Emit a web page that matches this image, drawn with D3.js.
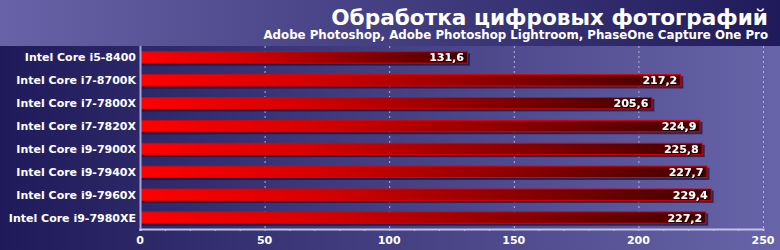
<!DOCTYPE html>
<html>
<head>
<meta charset="utf-8">
<script src="https://cdn.jsdelivr.net/npm/d3@7"></script>
<style>
  body { margin: 0; background: #2a2566; }
  svg { display: block; font-family: "DejaVu Sans", Verdana, sans-serif; }
</style>
</head>
<body>
<svg width="780" height="250"></svg>
<script>
// data
var cpus = ["Intel Core i5-8400", "Intel Core i7-8700K", "Intel Core i7-7800X", "Intel Core i7-7820X",
            "Intel Core i9-7900X", "Intel Core i9-7940X", "Intel Core i9-7960X", "Intel Core i9-7980XE"];
var scores = [131.6, 217.2, 205.6, 224.9, 225.8, 227.7, 229.4, 227.2];
var tickValues = [0, 50, 100, 150, 200, 250];
var title = "Обработка цифровых фотографий";
var subtitle = "Adobe Photoshop, Adobe Photoshop Lightroom, PhaseOne Capture One Pro";

var svg = d3.select("svg");
var W = 780, H = 250;
var headerH = 46;
var plotLeft = 140, plotRight = 763, plotTop = 46, axisY = 229;

var defs = svg.append("defs");
var g1 = defs.append("linearGradient").attr("id", "hdr");
g1.append("stop").attr("offset", "0").attr("stop-color", "#6862a8");
g1.append("stop").attr("offset", "1").attr("stop-color", "#1f1b5a");
var g2 = defs.append("linearGradient").attr("id", "plot");
g2.append("stop").attr("offset", "0").attr("stop-color", "#1f1a5a");
g2.append("stop").attr("offset", "0.18").attr("stop-color", "#2c2868");
g2.append("stop").attr("offset", "1").attr("stop-color", "#6864a9");
var g3 = defs.append("linearGradient").attr("id", "bar");
g3.append("stop").attr("offset", "0").attr("stop-color", "#ff0000");
g3.append("stop").attr("offset", "0.3").attr("stop-color", "#d80000");
g3.append("stop").attr("offset", "1").attr("stop-color", "#420000");
var f = defs.append("filter").attr("id", "ts").attr("x", "-10%").attr("y", "-20%").attr("width", "130%").attr("height", "150%");
f.append("feDropShadow").attr("dx", 1).attr("dy", 1).attr("stdDeviation", 0.4)
  .attr("flood-color", "#000").attr("flood-opacity", 0.8);

svg.append("rect").attr("width", W).attr("height", headerH).attr("fill", "url(#hdr)");
svg.append("rect").attr("y", headerH).attr("width", W).attr("height", H - headerH).attr("fill", "url(#plot)");

svg.append("text").attr("x", 768).attr("y", 25).attr("text-anchor", "end")
  .attr("fill", "#fff").attr("font-weight", "bold").attr("font-size", 21.6)
  .text(title);
svg.append("text").attr("x", 768).attr("y", 39).attr("text-anchor", "end")
  .attr("fill", "#fff").attr("font-weight", "bold").attr("font-size", 11.8)
  .text(subtitle);

var x = d3.scaleLinear().domain([0, 250]).range([plotLeft, plotRight]);
var y = d3.scaleBand().domain(cpus).range([plotTop, axisY]).paddingInner(0.46).paddingOuter(0.23);

// grid
svg.append("g").selectAll("line").data(tickValues.slice(1)).join("line")
  .attr("x1", d => x(d) + 0.5).attr("x2", d => x(d) + 0.5)
  .attr("y1", plotTop).attr("y2", axisY)
  .attr("stroke", "#b4b2dc").attr("stroke-dasharray", "2,3");

// bars
var rows = svg.append("g").selectAll("g").data(cpus).join("g");
rows.append("rect").attr("x", x(0) + 2).attr("y", d => y(d) + 2)
  .attr("width", (d, i) => x(scores[i]) - x(0)).attr("height", y.bandwidth())
  .attr("fill", "#150f40").attr("opacity", 0.7);
rows.append("rect").attr("x", x(0) + 0.5).attr("y", d => y(d) + 0.5)
  .attr("width", (d, i) => x(scores[i]) - x(0) - 1).attr("height", y.bandwidth() - 1)
  .attr("fill", "url(#bar)").attr("stroke", "#e00000").attr("stroke-width", 1);
rows.append("text").attr("x", (d, i) => x(scores[i]) - 4).attr("y", d => y(d) + y.bandwidth() / 2 + 4)
  .attr("text-anchor", "end").attr("fill", "#fff").attr("font-weight", "bold").attr("font-size", 11)
  .attr("filter", "url(#ts)")
  .text((d, i) => d3.format(".1f")(scores[i]).replace(".", ","));
rows.append("text").attr("x", 136).attr("y", d => y(d) + y.bandwidth() / 2 + 4)
  .attr("text-anchor", "end").attr("fill", "#fff").attr("font-weight", "bold").attr("font-size", 11)
  .text(d => d);

// axes
svg.append("line").attr("x1", plotLeft + 0.5).attr("x2", plotLeft + 0.5).attr("y1", plotTop).attr("y2", axisY + 2)
  .attr("stroke", "#a8a6d4").attr("stroke-width", 2);
var ax = svg.append("g").attr("transform", "translate(0," + axisY + ")")
  .call(d3.axisBottom(x).tickValues(d3.range(0, 251, 10)).tickSize(2).tickFormat(""));
ax.select(".domain").attr("stroke", "#c4c2e4").attr("stroke-width", 2);
ax.selectAll(".tick line").attr("stroke", "#c4c2e4");
svg.append("g").selectAll("text").data(tickValues).join("text")
  .attr("x", d => x(d)).attr("y", 244).attr("text-anchor", "middle")
  .attr("fill", "#fff").attr("font-weight", "bold").attr("font-size", 11)
  .text(d => d);
</script>
</body>
</html>
